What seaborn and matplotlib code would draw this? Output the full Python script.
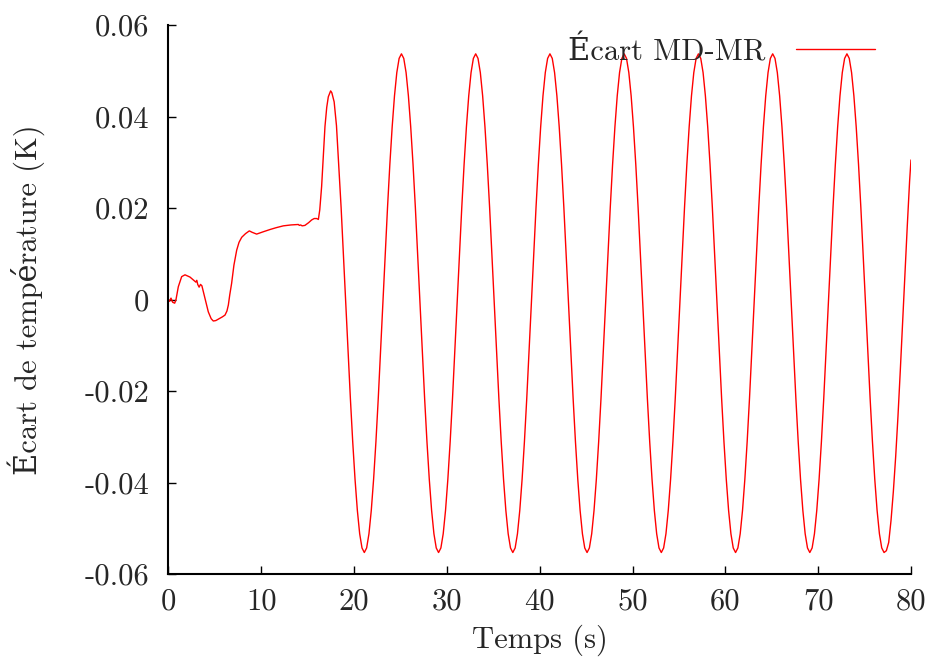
import numpy as np
import pandas as pd
import matplotlib
matplotlib.use('Agg')
import matplotlib.pyplot as plt
import seaborn as sns

# Early transient (irregular sampling)
t_early = [0.0, 0.1, 0.27, 0.45, 0.67, 0.81, 1.06, 1.42, 1.78, 2.32,
           2.67, 2.95, 3.05, 3.15, 3.3, 3.45, 3.6, 3.93, 4.29, 4.6,
           4.83, 5.1, 5.37, 5.8, 6.09, 6.3, 6.45, 6.6, 6.8, 7.05,
           7.35, 7.6, 7.89, 8.3, 8.71, 9.0, 9.5, 10.2, 10.94, 11.6,
           12.37, 13.2, 13.99, 14.1, 14.24, 14.4, 14.7, 15.1, 15.43, 15.7,
           15.97, 16.15, 16.3, 16.5, 16.7, 16.86, 17.05, 17.22, 17.47]
ecart_early = [0.0000, -0.0004, 0.0003, -0.0006, -0.0008, 0.0000, 0.0028, 0.0050, 0.0054, 0.0049,
               0.0043, 0.0038, 0.0042, 0.0033, 0.0027, 0.0033, 0.0030, 0.0003, -0.0027, -0.0042,
               -0.0047, -0.0046, -0.0043, -0.0038, -0.0034, -0.0025, -0.0012, 0.0010, 0.0035, 0.0075,
               0.0108, 0.0125, 0.0136, 0.0144, 0.0150, 0.0147, 0.0143, 0.0148, 0.0153, 0.0157,
               0.0161, 0.0163, 0.0164, 0.0162, 0.0163, 0.0161, 0.0162, 0.0168, 0.0174, 0.0177,
               0.0177, 0.0175, 0.0196, 0.0247, 0.0320, 0.0378, 0.0420, 0.0443, 0.0456]

# Oscillating part, sampled every 0.25 s from 17.6 s, last point at 80 s
t_osc = list(np.round(np.arange(17.6, 79.86, 0.25), 2)) + [80.0]
ecart_osc = [
    0.0452, 0.0432, 0.0380, 0.0292, 0.0201, 0.0098, -0.0008, -0.0114,
    -0.0217, -0.0311, -0.0393, -0.0461, -0.0512, -0.0543, -0.0553,
    # 21.35 -> 29.1
    -0.0543, -0.0512, -0.0461, -0.0393, -0.0311, -0.0217, -0.0114, -0.0008, 0.0098, 0.0201, 0.0295, 0.0377, 0.0445, 0.0496, 0.0527, 0.0537,
    0.0527, 0.0496, 0.0445, 0.0377, 0.0295, 0.0201, 0.0098, -0.0008, -0.0114, -0.0217, -0.0311, -0.0393, -0.0461, -0.0512, -0.0543, -0.0553,
    # 29.35 -> 37.1
    -0.0543, -0.0512, -0.0461, -0.0393, -0.0311, -0.0217, -0.0114, -0.0008, 0.0098, 0.0201, 0.0295, 0.0377, 0.0445, 0.0496, 0.0527, 0.0537,
    0.0527, 0.0496, 0.0445, 0.0377, 0.0295, 0.0201, 0.0098, -0.0008, -0.0114, -0.0217, -0.0311, -0.0393, -0.0461, -0.0512, -0.0543, -0.0553,
    # 37.35 -> 45.1
    -0.0543, -0.0512, -0.0461, -0.0393, -0.0311, -0.0217, -0.0114, -0.0008, 0.0098, 0.0201, 0.0295, 0.0377, 0.0445, 0.0496, 0.0527, 0.0537,
    0.0527, 0.0496, 0.0445, 0.0377, 0.0295, 0.0201, 0.0098, -0.0008, -0.0114, -0.0217, -0.0311, -0.0393, -0.0461, -0.0512, -0.0543, -0.0553,
    # 45.35 -> 53.1
    -0.0543, -0.0512, -0.0461, -0.0393, -0.0311, -0.0217, -0.0114, -0.0008, 0.0098, 0.0201, 0.0295, 0.0377, 0.0445, 0.0496, 0.0527, 0.0537,
    0.0527, 0.0496, 0.0445, 0.0377, 0.0295, 0.0201, 0.0098, -0.0008, -0.0114, -0.0217, -0.0311, -0.0393, -0.0461, -0.0512, -0.0543, -0.0553,
    # 53.35 -> 61.1
    -0.0543, -0.0512, -0.0461, -0.0393, -0.0311, -0.0217, -0.0114, -0.0008, 0.0098, 0.0201, 0.0295, 0.0377, 0.0445, 0.0496, 0.0527, 0.0537,
    0.0527, 0.0496, 0.0445, 0.0377, 0.0295, 0.0201, 0.0098, -0.0008, -0.0114, -0.0217, -0.0311, -0.0393, -0.0461, -0.0512, -0.0543, -0.0553,
    # 61.35 -> 69.1
    -0.0543, -0.0512, -0.0461, -0.0393, -0.0311, -0.0217, -0.0114, -0.0008, 0.0098, 0.0201, 0.0295, 0.0377, 0.0445, 0.0496, 0.0527, 0.0537,
    0.0527, 0.0496, 0.0445, 0.0377, 0.0295, 0.0201, 0.0098, -0.0008, -0.0114, -0.0217, -0.0311, -0.0393, -0.0461, -0.0512, -0.0543, -0.0553,
    # 69.35 -> 77.1
    -0.0543, -0.0512, -0.0461, -0.0393, -0.0311, -0.0217, -0.0114, -0.0008, 0.0098, 0.0201, 0.0295, 0.0377, 0.0445, 0.0496, 0.0527, 0.0537,
    0.0527, 0.0496, 0.0445, 0.0377, 0.0295, 0.0201, 0.0098, -0.0008, -0.0114, -0.0217, -0.0311, -0.0393, -0.0461, -0.0512, -0.0543, -0.0553,
    # 77.35 -> 79.85, then 80
    -0.0549, -0.0531, -0.0483, -0.0420, -0.0344, -0.0255, -0.0155, -0.0050, 0.0056, 0.0160, 0.0258,
    0.0305,
]

x_ticks = [0, 10, 20, 30, 40, 50, 60, 70, 80]
y_ticks = [-0.06, -0.04, -0.02, 0, 0.02, 0.04, 0.06]
y_ticklabels = ['-0.06', '-0.04', '-0.02', '0', '0.02', '0.04', '0.06']

df = pd.DataFrame({'temps': t_early + t_osc, 'ecart': ecart_early + ecart_osc})

sns.set_style('ticks')
plt.rcParams['font.family'] = ['cmr10', 'DejaVu Serif']
plt.rcParams['axes.unicode_minus'] = False
fs = 22

fig = plt.figure(figsize=(9.35, 6.65), dpi=100)
ax = fig.add_axes([0.1802, 0.1368, 0.7941, 0.8256])

sns.lineplot(data=df, x='temps', y='ecart', color='#ff0000', lw=1.0,
             estimator=None, sort=False, label='Écart MD-MR', ax=ax)

ax.set_xlim(0, 80)
ax.set_ylim(-0.06, 0.06)
ax.set_xticks(x_ticks)
ax.set_xticklabels([str(v) for v in x_ticks])
ax.set_yticks(y_ticks)
ax.set_yticklabels(y_ticklabels)
ax.tick_params(direction='in', length=6, width=1, labelsize=fs, color='black')
ax.tick_params(axis='x', pad=10)
ax.tick_params(axis='y', pad=14)
ax.set_xlabel('Temps (s)', fontsize=fs)
ax.set_ylabel('Écart de température (K)', fontsize=fs)
ax.xaxis.set_label_coords(0.5, -0.092)
ax.yaxis.set_label_coords(-0.166, 0.5)
sns.despine(ax=ax)
for s in ['left', 'bottom']:
    ax.spines[s].set_linewidth(1.5)
    ax.spines[s].set_color('black')

ax.legend(loc='upper right', frameon=False, markerfirst=False, fontsize=fs,
          handlelength=2.6, handletextpad=1.0, bbox_to_anchor=(0.989, 1.03))

fig.savefig('out.png', dpi=100)
